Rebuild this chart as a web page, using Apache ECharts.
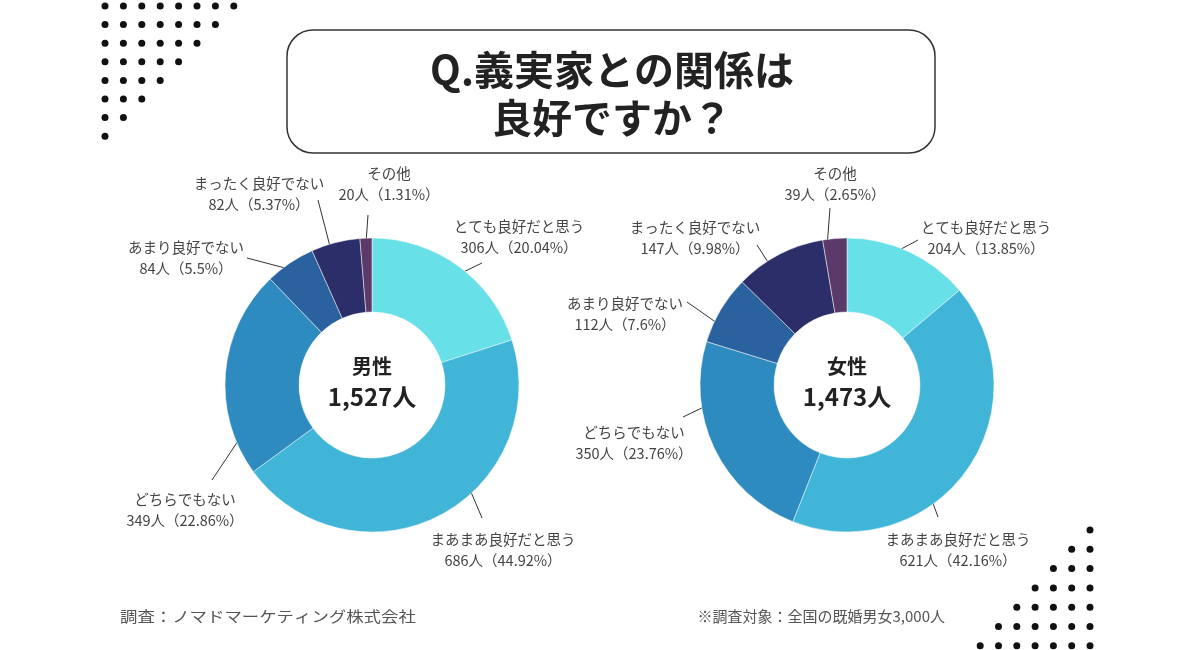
<!DOCTYPE html>
<html><head><meta charset="utf-8">
<script src="https://cdn.jsdelivr.net/npm/echarts@6/dist/echarts.min.js"></script>
<style>html,body{margin:0;padding:0;background:#fff}#c{width:1200px;height:650px}</style>
</head><body><div id="c"></div>
<script>
const categories = ['とても良好だと思う','まあまあ良好だと思う','どちらでもない','あまり良好でない','まったく良好でない','その他'];
const maleValues = [306,686,349,84,82,20];
const malePct = ['20.04','44.92','22.86','5.5','5.37','1.31'];
const femaleValues = [204,621,350,112,147,39];
const femalePct = ['13.85','42.16','23.76','7.6','9.98','2.65'];
const groupNames = ['男性','女性'];
const groupTotals = ['1,527人','1,473人'];
const titleLines = ['Q.義実家との関係は','良好ですか？'];
const footLeft = '調査：ノマドマーケティング株式会社';
const footRight = '※調査対象：全国の既婚男女3,000人';

// ---- layout / style (not data) ----
const colors = ['#68e0e8','#41b5d8','#2d8bbf','#2a619f','#2b2e69','#5b3a69'];
const centers = [[372,385],[847,385]];
const labelPos = [
  [[519,237],[503,550],[185,510],[186,258],[259,194],[389,184]],
  [[986,238],[958,550],[634,443],[625,314],[695,238],[835,184]]
];
const leaderLines = [
  [[[453,277],[482,263]],[[468,485],[482,518]],[[242,435],[212,480]],[[285,268],[247,258]],[[333,258],[318,200]],[[365,257],[368,215]]],
  [[[890,255],[918,240]],[[927,487],[938,517]],[[708,405],[683,417]],[[717,323],[687,302]],[[773,270],[757,245]],[[827,247],[830,208]]]
];
const FONT = '"Noto Sans CJK JP", "Noto Sans", sans-serif';

const chart = echarts.init(document.getElementById('c'), null, {renderer:'canvas'});

function makeSeries(idx, values, pcts){
  return {
    type:'pie',
    center: centers[idx],
    radius:[73,147],
    startAngle:90,
    clockwise:true,
    avoidLabelOverlap:false,
    silent:true,
    emphasis:{disabled:true},
    itemStyle:{borderColor:'rgba(255,255,255,0.6)', borderWidth:0.8},
    label:{
      show:true, position:'outside',
      fontFamily:FONT, fontSize:14.5, color:'#444', lineHeight:21, align:'center',
      formatter: p => p.name + '\n' + p.value + '人（' + pcts[p.dataIndex] + '%）'
    },
    labelLine:{show:true, length:10, length2:4, smooth:false, lineStyle:{color:'#333', width:1}},
    labelLayout: function(params){
      const pos = labelPos[idx][params.dataIndex];
      return {x:pos[0], y:pos[1], align:'center', verticalAlign:'middle',
              labelLinePoints: leaderLines[idx][params.dataIndex]};
    },
    data: categories.map((c,i)=>({name:c, value:values[i], itemStyle:{color:colors[i]}}))
  };
}

const graphics = [];
graphics.push({type:'rect', shape:{x:287,y:30,width:648,height:123,r:26}, style:{fill:'#fff', stroke:'#333', lineWidth:1.5}, z:1});
titleLines.forEach((t,i)=>{
  graphics.push({type:'text', x:612, y:70+i*48, style:{text:t, fontFamily:FONT, fontSize:40, fontWeight:'bold', fill:'#222', align:'center', verticalAlign:'middle'}, z:2});
});
centers.forEach((c,i)=>{
  graphics.push({type:'text', x:c[0], y:c[1]-19, style:{text:groupNames[i], fontFamily:FONT, fontSize:20, fontWeight:'bold', fill:'#222', align:'center', verticalAlign:'middle'}, z:5});
  graphics.push({type:'text', x:c[0], y:c[1]+12, style:{text:groupTotals[i], fontFamily:FONT, fontSize:24, fontWeight:'bold', fill:'#222', align:'center', verticalAlign:'middle'}, z:5});
});
graphics.push({type:'text', x:120, y:616, scaleX:1.16, style:{text:footLeft, fontFamily:FONT, fontSize:15, fill:'#555', align:'left', verticalAlign:'middle'}});
graphics.push({type:'text', x:945, y:616, style:{text:footRight, fontFamily:FONT, fontSize:15, fill:'#555', align:'right', verticalAlign:'middle'}});
for(let r=0;r<8;r++){
  for(let c=0;c<8-r;c++){
    graphics.push({type:'circle', shape:{cx:105+c*18.4, cy:6+r*18.6, r:3.5}, style:{fill:'#111'}});
  }
}
for(let r=0;r<7;r++){
  for(let c=0;c<=r;c++){
    graphics.push({type:'circle', shape:{cx:1090-c*18.3, cy:530+r*19.3, r:3.5}, style:{fill:'#111'}});
  }
}

chart.setOption({
  backgroundColor:'#ffffff',
  animation:false,
  graphic:graphics,
  series:[makeSeries(0, maleValues, malePct), makeSeries(1, femaleValues, femalePct)]
});
</script></body></html>
